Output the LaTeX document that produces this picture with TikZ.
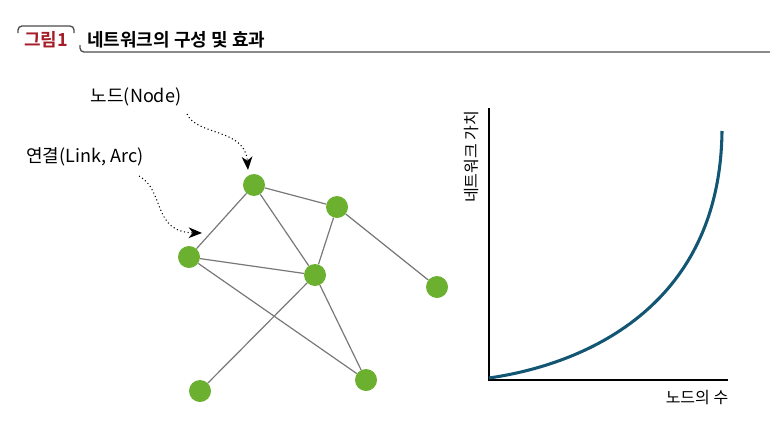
\documentclass[tikz,border=0pt]{standalone}
\usepackage{fontspec}
\setmainfont{Noto Sans CJK KR}[BoldFont={* Bold}]
\usepackage{tikz}
\usetikzlibrary{arrows.meta}
\definecolor{netgreen}{RGB}{107,177,47}
\definecolor{edgegray}{RGB}{120,120,120}
\definecolor{curveteal}{RGB}{18,86,116}
\definecolor{figred}{RGB}{165,28,40}
\tikzset{
  netnode/.style={circle,fill=netgreen,draw=none,minimum size=16.5pt,inner sep=0pt},
  netedge/.style={draw=edgegray,line width=0.9pt},
  pointer/.style={dotted,line width=0.8pt,-{Stealth[length=10pt,width=8pt,inset=3pt]}},
  lbl/.style={inner sep=0.75pt,font=\fontsize{12}{14}\selectfont},
  biglbl/.style={inner sep=0.75pt,font=\fontsize{13.5}{16}\selectfont}
}
\begin{document}
\begin{tikzpicture}[x=0.75pt,y=0.75pt,yscale=-1,xscale=1]
\useasboundingbox (0,0) rectangle (770,439);

% title
\draw [draw=black!70,line width=1pt] (18,33) -- (18,30) arc[start angle=180,end angle=270,radius=4] -- (70,26) arc[start angle=270,end angle=360,radius=4] -- (74,33);
\draw [draw=black!70,line width=1pt] (80,45) -- (80,48) arc[start angle=180,end angle=90,radius=4] -- (770,52);
\node (fig) [inner sep=0pt,font=\fontsize{13.5}{16}\selectfont\bfseries,text=figred] at (46,40) {그림1};
\node (title) [anchor=west,inner sep=0pt,font=\fontsize{13.5}{16}\selectfont\bfseries] at (87,40) {네트워크의 구성 및 효과};

% network
\node (n1) [netnode] at (254,185) {};
\node (n2) [netnode] at (337,207) {};
\node (n3) [netnode] at (189,257) {};
\node (n4) [netnode] at (315,275) {};
\node (n5) [netnode] at (437,287) {};
\node (n6) [netnode] at (200,391) {};
\node (n7) [netnode] at (366,380) {};
\draw [netedge] (n1) -- (n2);
\draw [netedge] (n1) -- (n3);
\draw [netedge] (n1) -- (n4);
\draw [netedge] (n2) -- (n4);
\draw [netedge] (n2) -- (n5);
\draw [netedge] (n3) -- (n4);
\draw [netedge] (n3) -- (n7);
\draw [netedge] (n4) -- (n6);
\draw [netedge] (n4) -- (n7);

% labels and pointers
\node (nodelbl) [biglbl] at (136,97) {노드(Node)};
\node (linklbl) [biglbl] at (85,157) {연결(Link, Arc)};
\coordinate (nodetip) at (248,170);
\coordinate (linktip) at (202,233);
\draw [pointer] (187,114) .. controls (197,136) and (245,128) .. (nodetip);
\draw [pointer] (139,176) .. controls (165,190) and (152,232) .. (linktip);

% chart
\coordinate (origin) at (489,380);
\draw [line width=1.1pt] (489,108) -- (origin) -- (728,380);
\draw [curveteal,line width=2.3pt] (489,378) .. controls (580,365) and (720,310) .. (722,131);
\node (ylbl) [lbl,rotate=90] at (472,157) {네트워크 가치};
\node (xlbl) [lbl] at (697,398) {노드의 수};
\end{tikzpicture}
\end{document}
